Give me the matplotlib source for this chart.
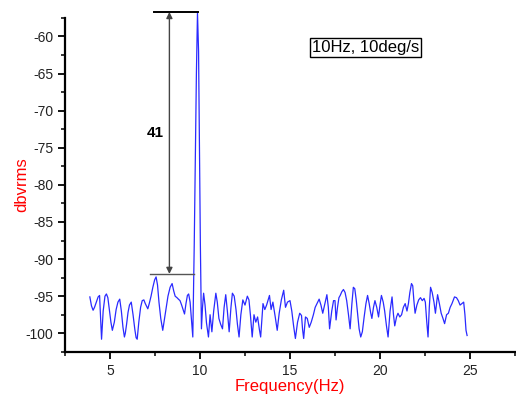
import matplotlib.pyplot as plt
from matplotlib.ticker import MultipleLocator

plt.rcParams['font.family'] = ['Liberation Sans', 'DejaVu Sans']
plt.rcParams['axes.unicode_minus'] = False

# spectrum
freq = [3.88, 3.97, 4.06, 4.14, 4.24, 4.34, 4.42, 4.53, 4.62, 4.72, 4.80, 4.88, 4.96,
        5.05, 5.13, 5.24, 5.34, 5.44, 5.54, 5.63, 5.72, 5.80, 5.85, 5.92, 6.00, 6.08,
        6.18, 6.28, 6.38, 6.45, 6.51, 6.60, 6.70, 6.79, 6.88, 6.96, 7.04, 7.10, 7.18,
        7.28, 7.38, 7.48, 7.56, 7.64, 7.72, 7.82, 7.93, 8.02, 8.12, 8.22, 8.34, 8.45,
        8.54, 8.62, 8.72, 8.80, 8.89, 8.98, 9.06, 9.14, 9.22, 9.30, 9.37, 9.45, 9.52,
        9.60, 9.68, 9.74, 9.80, 9.86, 9.92, 9.97, 10.02, 10.08, 10.14, 10.20, 10.28,
        10.36, 10.47, 10.56, 10.66, 10.76, 10.88, 10.96, 11.05, 11.15, 11.25, 11.34,
        11.43, 11.52, 11.62, 11.72, 11.80, 11.90, 12.00, 12.08, 12.17, 12.27, 12.38,
        12.50, 12.63, 12.72, 12.80, 12.90, 13.00, 13.10, 13.20, 13.30, 13.37, 13.50,
        13.60, 13.70, 13.86, 13.95, 14.05, 14.18, 14.29, 14.40, 14.52, 14.65, 14.75,
        14.86, 15.00, 15.10, 15.20, 15.30, 15.42, 15.54, 15.64, 15.70, 15.76, 15.86,
        15.96, 16.07, 16.18, 16.30, 16.40, 16.50, 16.62, 16.72, 16.82, 16.92, 17.05,
        17.13, 17.20, 17.32, 17.42, 17.50, 17.56, 17.64, 17.72, 17.79, 17.88, 17.97,
        18.06, 18.15, 18.25, 18.34, 18.44, 18.52, 18.60, 18.68, 18.76, 18.84, 18.93,
        19.02, 19.12, 19.22, 19.31, 19.40, 19.48, 19.55, 19.64, 19.72, 19.82, 19.92,
        20.00, 20.08, 20.18, 20.26, 20.36, 20.45, 20.56, 20.67, 20.75, 20.82, 20.92,
        21.00, 21.10, 21.20, 21.30, 21.40, 21.50, 21.58, 21.66, 21.75, 21.82, 21.88,
        21.95, 22.05, 22.15, 22.25, 22.35, 22.45, 22.52, 22.60, 22.67, 22.74, 22.81,
        22.90, 23.00, 23.08, 23.20, 23.30, 23.40, 23.50, 23.59, 23.70, 23.80, 23.90,
        24.00, 24.14, 24.25, 24.35, 24.45, 24.55, 24.65, 24.72, 24.78, 24.84]
level = [-95.1, -96.3, -96.9, -96.5, -95.8, -95.1, -94.9, -100.8, -97.0, -95.0, -94.7, -95.2, -96.8,
         -98.5, -99.6, -98.5, -96.8, -95.8, -95.4, -97.0, -99.2, -100.5, -100.0, -98.8, -97.2, -96.2,
         -95.8, -97.5, -99.5, -100.6, -100.8, -98.5, -96.5, -95.6, -95.5, -96.0, -96.4, -96.7, -96.0,
         -95.0, -93.8, -92.8, -92.4, -93.5, -95.8, -98.0, -99.6, -98.2, -96.6, -95.0, -93.8, -93.3,
         -94.3, -95.0, -95.2, -95.4, -95.6, -96.2, -96.8, -97.4, -96.0, -94.9, -94.7, -95.8, -98.0,
         -100.5, -88.0, -76.0, -65.0, -56.8, -62.0, -75.0, -88.0, -99.4, -96.5, -94.6, -96.2,
         -98.6, -100.5, -97.5, -99.8, -97.0, -94.6, -95.8, -98.0, -98.8, -99.4, -96.5,
         -94.8, -97.0, -99.8, -96.5, -94.6, -95.0, -96.8, -98.8, -100.5, -97.5, -95.5,
         -96.2, -95.0, -95.5, -97.5, -100.5, -97.5, -98.5, -97.8, -99.5, -100.5, -96.0,
         -96.8, -96.2, -94.9, -96.8, -95.8, -97.8, -99.6, -97.3, -95.5, -94.2, -96.5,
         -95.8, -95.6, -97.0, -99.0, -100.7, -98.5, -97.3, -97.6, -99.5, -100.7, -97.8,
         -98.0, -99.2, -98.5, -97.5, -96.5, -96.0, -95.4, -96.2, -97.3, -96.2, -94.8,
         -96.5, -99.4, -97.0, -95.6, -95.6, -98.2, -96.5, -95.2, -94.9, -94.4, -94.1,
         -94.5, -95.6, -97.5, -99.4, -96.0, -93.8, -94.0, -95.5, -97.5, -99.4, -100.5,
         -99.8, -97.8, -96.0, -94.9, -96.0, -97.2, -98.0, -96.5, -95.6, -96.5, -97.8,
         -96.2, -94.9, -95.8, -97.0, -99.0, -100.5, -97.0, -95.1, -97.5, -99.0, -97.8,
         -97.3, -97.8, -97.5, -96.5, -96.0, -97.0, -96.0, -94.5, -93.3, -93.6, -95.5,
         -97.3, -96.2, -95.5, -95.2, -95.6, -95.3, -95.8, -98.5, -100.5, -96.5, -93.8,
         -94.5, -95.8, -97.3, -94.8, -96.0, -97.3, -98.0, -98.7, -97.5, -97.3, -96.5,
         -96.0, -95.1, -95.2, -95.6, -96.2, -96.0, -95.8, -97.5, -99.6, -100.3]

peak_level = -56.7
floor_level = -92.0
diff_label = '41'
note = '10Hz, 10deg/s'

fig = plt.figure(figsize=(5.16, 3.98), dpi=100)
ax = fig.add_axes([0.126, 0.116, 0.872, 0.839])

ax.plot(freq, level, color='#2a2aff', lw=0.9, clip_on=False)

# dB difference marker
ax.plot([7.45, 9.9], [peak_level, peak_level], color='black', lw=1.4, clip_on=False)
ax.plot([7.2, 9.65], [floor_level, floor_level], color='#555555', lw=1.0, clip_on=False)
ax.annotate('', xy=(8.3, peak_level), xytext=(8.3, floor_level),
            arrowprops=dict(arrowstyle='<|-|>', color='#444444', lw=1.0,
                            mutation_scale=9, shrinkA=0, shrinkB=0),
            annotation_clip=False)
ax.text(7.5, -73.0, diff_label, fontsize=11, fontweight='bold', ha='center', va='center')

ax.text(19.2, -61.5, note, fontsize=12, ha='center', va='center',
        bbox=dict(boxstyle='square,pad=0.1', fc='white', ec='black', lw=1.0))

ax.set_xlim(2.5, 27.5)
ax.set_ylim(-102.5, -57.5)
ax.xaxis.set_major_locator(MultipleLocator(5))
ax.xaxis.set_minor_locator(MultipleLocator(2.5))
ax.yaxis.set_major_locator(MultipleLocator(5))
ax.yaxis.set_minor_locator(MultipleLocator(2.5))

for s in ['top', 'right']:
    ax.spines[s].set_visible(False)
for s in ['left', 'bottom']:
    ax.spines[s].set_linewidth(1.6)

ax.tick_params(which='major', direction='out', length=5, width=1.3,
               labelsize=10, labelcolor='#222222')
ax.tick_params(which='minor', direction='out', length=3, width=1.1)

ax.set_xlabel('Frequency(Hz)', color='red', fontsize=12)
ax.set_ylabel('dbvrms', color='red', fontsize=12)
ax.xaxis.set_label_coords(0.5, -0.08)
ax.yaxis.set_label_coords(-0.08, 0.5)

fig.savefig('out.png', dpi=100)
